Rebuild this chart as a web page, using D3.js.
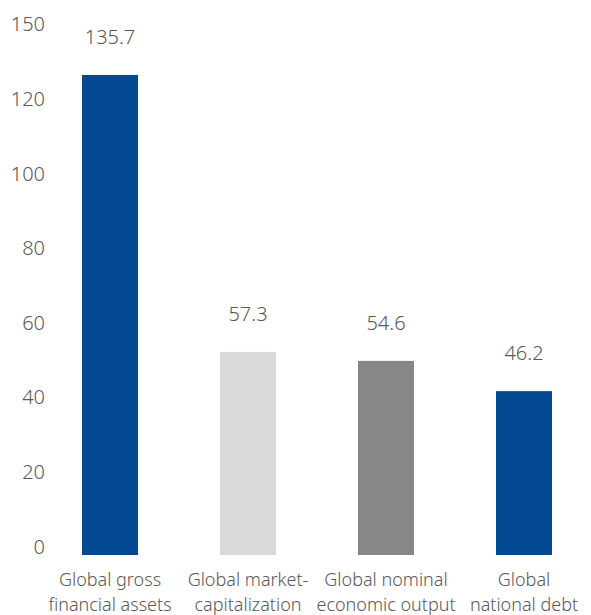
<!DOCTYPE html>
<html>
<head>
<meta charset="utf-8">
<script src="https://cdn.jsdelivr.net/npm/d3@7"></script>
<style>
  html, body { margin: 0; padding: 0; background: #ffffff; }
  svg { display: block; }
  text { font-family: "Noto Sans", "Open Sans", sans-serif; font-weight: 300; fill: #595959; }
</style>
</head>
<body>
<svg id="chart" width="591" height="615"></svg>
<script>
// Data
const categories = [
  ["Global gross", "financial assets"],
  ["Global market-", "capitalization"],
  ["Global nominal", "economic output"],
  ["Global", "national debt"]
];
const barValues = [128.6, 54.4, 52.0, 43.9];       // bar heights as drawn on the axis
const valueLabels = ["135.7", "57.3", "54.6", "46.2"]; // printed labels
const barColors = ["#034a93", "#d9d9d9", "#878787", "#034a93"];
const tickValues = [0, 20, 40, 60, 80, 100, 120, 140];
const tickLabels = ["0", "20", "40", "60", "80", "100", "120", "150"];

const svg = d3.select("#chart");
const x = d3.scaleBand()
  .domain(d3.range(categories.length))
  .range([41, 593])
  .paddingInner(0.594)
  .paddingOuter(0.297);
const y = d3.scaleLinear().domain([0, 140]).range([555, 32.4]);

// Y axis labels
const yAxis = d3.axisLeft(y)
  .tickValues(tickValues)
  .tickFormat((d, i) => tickLabels[i])
  .tickSize(0)
  .tickPadding(0);
const yg = svg.append("g").attr("transform", "translate(45,0)").call(yAxis);
yg.select(".domain").remove();
yg.selectAll("text")
  .attr("dy", null)
  .attr("y", -7)
  .attr("dominant-baseline", "middle")
  .style("font-size", "20px")
  .style("font-family", "\"Noto Sans\", sans-serif")
  .style("font-weight", "300")
  .attr("fill", "#595959");

// Bars
svg.append("g").selectAll("rect")
  .data(barValues)
  .join("rect")
  .attr("x", (d, i) => x(i))
  .attr("width", x.bandwidth())
  .attr("y", d => y(d))
  .attr("height", d => y(0) - y(d))
  .attr("fill", (d, i) => barColors[i]);

// Value labels
svg.append("g").selectAll("text")
  .data(barValues)
  .join("text")
  .attr("x", (d, i) => x(i) + x.bandwidth() / 2)
  .attr("y", d => y(d) - 36)
  .attr("text-anchor", "middle")
  .attr("dominant-baseline", "middle")
  .style("font-size", "20px")
  .text((d, i) => valueLabels[i]);

// Category labels
const xAxis = d3.axisBottom(x).tickSize(0).tickFormat(() => "");
const xg = svg.append("g").attr("transform", `translate(0,${y(0)})`).call(xAxis);
xg.select(".domain").remove();
xg.selectAll(".tick").each(function(d) {
  const t = d3.select(this).select("text")
    .attr("y", 0).attr("dy", null)
    .attr("text-anchor", "middle")
    .style("font-size", "18px")
    .style("font-family", "\"Noto Sans\", sans-serif")
    .style("font-weight", "300")
    .attr("fill", "#595959");
  categories[d].forEach((line, k) => {
    t.append("tspan")
      .attr("x", 0)
      .attr("y", 31 + k * 25)
      .text(line);
  });
});
</script>
</body>
</html>
